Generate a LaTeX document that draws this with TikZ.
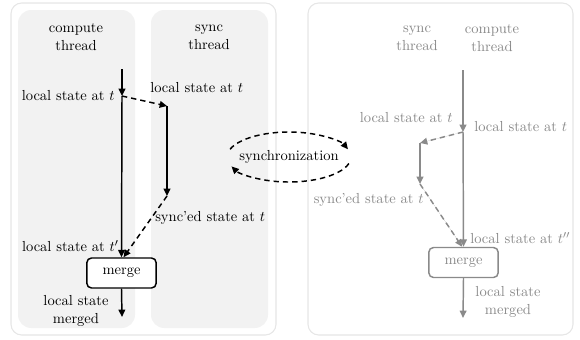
\documentclass[tikz,border=0pt]{standalone}
\usetikzlibrary{arrows.meta}
\definecolor{fade}{HTML}{8A8A8A}
\definecolor{panelgray}{HTML}{F2F2F2}
\definecolor{boxline}{HTML}{E6E6E6}
\begin{document}
\begin{tikzpicture}[x=0.75pt,y=0.75pt,
  font=\fontsize{10.9}{13.5}\selectfont,
  outerbox/.style={draw=boxline, line width=0.8pt, rounded corners=8pt, fill=white},
  panel/.style={fill=panelgray, rounded corners=10pt},
  flow/.style={line width=1.1pt, -{Triangle[length=5.5pt,width=5pt]}},
  syncline/.style={flow, dash pattern=on 4pt off 3pt},
  mergebox/.style={draw, line width=1.1pt, rounded corners=3.5pt, minimum width=52pt, minimum height=22.5pt, fill=white, inner sep=0pt},
  lbl/.style={inner sep=0pt},
  faded/.style={draw=fade, text=fade}]
\useasboundingbox (0,0) rectangle (580,-339);
% boxes
\draw[outerbox] (11,-3) rectangle (276,-335);
\fill[panel] (18,-10) rectangle (135,-328);
\fill[panel] (151,-10) rectangle (268,-328);
\draw[outerbox] (308,-3) rectangle (573,-335);
% left titles
\node[align=center] (tc) at (76,-37) {compute\\thread};
\node[align=center] (ts) at (209,-37) {sync\\thread};
% left flows
\coordinate (a0) at (122,-69);
\coordinate (a1) at (122,-96);
\node[mergebox] (m1) at (121.5,-273) {merge};
\coordinate (a2) at (122,-317);
\coordinate (b1) at (167,-106);
\coordinate (b2) at (167,-196);
\draw[flow] (a0) -- (a1);
\draw[flow] (a1) -- (m1.north);
\draw[syncline] (a1) -- (b1);
\draw[flow] (b1) -- (b2);
\draw[syncline] (b2) -- ([xshift=1.5pt]m1.north);
\draw[flow] (m1.south) -- (a2);
% left labels
\node[lbl, anchor=east] (l1) at (115,-96) {local state at $t$};
\node[lbl, anchor=west] (l2) at (150,-88) {local state at $t$};
\node[lbl, anchor=west] (l3) at (155,-218) {sync'ed state at $t$};
\node[lbl, anchor=east] (l4) at (119,-246) {local state at $t'$};
\node[align=center] (l5) at (76,-311) {local state\\merged};
% synchronization
\node (sy) at (289,-157) {synchronization};
\draw[syncline] (sy.center) ++(162:46.5pt and 18.75pt) arc[start angle=162, end angle=18, x radius=46.5pt, y radius=18.75pt];
\draw[syncline] (sy.center) ++(-15:46.5pt and 18.75pt) arc[start angle=-15, end angle=-158, x radius=46.5pt, y radius=18.75pt];
% right titles
\node[faded, draw=none, align=center] (rs) at (417,-38) {sync\\thread};
\node[faded, draw=none, align=center] (rc) at (492,-38) {compute\\thread};
% right flows
\coordinate (c0) at (463,-70);
\coordinate (c1) at (463,-132);
\coordinate (d1) at (420,-143);
\coordinate (d2) at (420,-184);
\node[mergebox, faded] (m2) at (463.5,-262.5) {merge};
\coordinate (c2) at (463,-318);
\draw[flow, draw=fade, fill=fade] (c0) -- (c1);
\draw[flow, draw=fade, fill=fade] (c1) -- (m2.north);
\draw[syncline, draw=fade, fill=fade] (c1) -- (d1);
\draw[flow, draw=fade, fill=fade] (d1) -- (d2);
\draw[syncline, draw=fade, fill=fade] (d2) -- ([xshift=-1pt]m2.north);
\draw[flow, draw=fade, fill=fade] (m2.south) -- (c2);
% right labels
\node[lbl, text=fade, anchor=west] (r1) at (474,-127) {local state at $t$};
\node[lbl, text=fade, anchor=east] (r2) at (453,-118) {local state at $t$};
\node[lbl, text=fade, anchor=east] (r3) at (424,-200) {sync'ed state at $t$};
\node[lbl, text=fade, anchor=west] (r4) at (470,-238) {local state at $t''$};
\node[text=fade, align=center] (r5) at (508,-301.5) {local state\\merged};
\end{tikzpicture}
\end{document}
